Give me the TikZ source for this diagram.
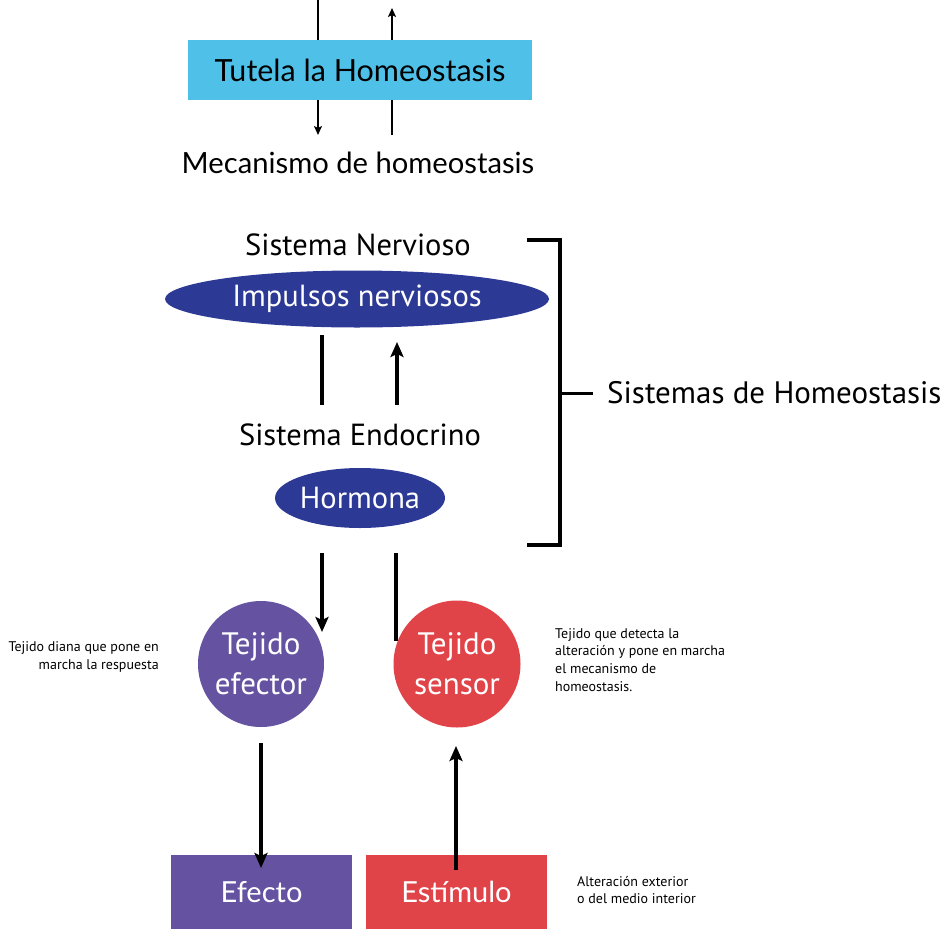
\documentclass[tikz,border=0pt]{standalone}
\usepackage{fontspec}
\setmainfont{PT Sans}
\newfontfamily\gill{Lato}
\usetikzlibrary{arrows.meta,shapes.geometric}
\definecolor{cyanb}{RGB}{79,193,233}
\definecolor{navyb}{RGB}{44,58,150}
\definecolor{purpb}{RGB}{101,83,162}
\definecolor{redb}{RGB}{224,67,72}
\tikzset{
  lbl/.style={inner sep=0pt, font=\fontsize{30.5}{32}\selectfont},
  ellb/.style={ellipse, fill=navyb, text=white, inner sep=0pt, font=\fontsize{30.5}{32}\selectfont},
  circb/.style={circle, text=white, inner sep=0pt, align=center, font=\fontsize{31}{40}\selectfont},
  boxb/.style={rectangle, inner sep=0pt, text=white, font=\gill\fontsize{29}{30}\selectfont},
  note/.style={inner sep=0pt, font=\fontsize{14}{17.8}\selectfont},
  thinln/.style={line width=2.2pt},
  thinarr/.style={line width=2.2pt, -{Stealth[length=9pt,width=8pt,inset=2pt]}},
  thickln/.style={line width=3.5pt},
  thickarr/.style={line width=3.5pt, -{Stealth[length=15pt,width=13pt,inset=3pt]}},
}
\begin{document}
\begin{tikzpicture}[x=1pt,y=-1pt]
\useasboundingbox (0,0) rectangle (950,929);

% top block
\node[rectangle, fill=cyanb, minimum width=344pt, minimum height=60pt, inner sep=0pt,
      font=\gill\fontsize{30.5}{32}\selectfont] (tut) at (360,70) {Tutela la Homeostasis};
\node[lbl, font=\gill\fontsize{29.2}{32}\selectfont] (mec) at (358,163) {Mecanismo de homeostasis};
\coordinate (a1) at (318,0);
\coordinate (a2) at (392,8);
\coordinate (b1) at (318,135);
\coordinate (b2) at (392,135);
\draw[thinln] (a1) -- (a1 |- tut.north);
\draw[thinarr] (a2 |- tut.north) -- (a2);
\draw[thinarr] (tut.south -| b1) -- (b1);
\draw[thinln] (b2) -- (tut.south -| b2);

% nervous system
\node[lbl] (nerv) at (358,245) {Sistema Nervioso};
\node[ellb, minimum width=384pt, minimum height=57pt] (imp) at (357,299) {Impulsos nerviosos};
\coordinate (c1a) at (322,335);
\coordinate (c1b) at (322,405);
\coordinate (c2a) at (397,405);
\coordinate (c2b) at (397,342);
\draw[thickln] (c1a) -- (c1b);
\draw[thickarr] (c2a) -- (c2b);

% endocrine system
\node[lbl] (endo) at (360,435) {Sistema Endocrino};
\node[ellb, minimum width=170pt, minimum height=60pt] (hor) at (360,498) {Hormona};

% bracket
\coordinate (k1) at (527,240);
\coordinate (k2) at (560,240);
\coordinate (k3) at (560,545);
\coordinate (k4) at (527,545);
\coordinate (k5) at (560,393);
\coordinate (k6) at (593,393);
\draw[line width=3.5pt] (k1) -- (k2) -- (k3) -- (k4);
\draw[line width=3pt] (k5) -- (k6);
\node[lbl, anchor=west, font=\fontsize{31}{32}\selectfont] (shl) at (607,393) {Sistemas de Homeostasis};

% tissues
\node[circb, fill=purpb, minimum size=126pt] (efe) at (261,664) {Tejido\\efector};
\node[circb, fill=redb, minimum size=127pt] (sen) at (457,664) {Tejido\\sensor};
\coordinate (d1a) at (322,553);
\coordinate (d1b) at (322,632);
\coordinate (d2a) at (396,553);
\coordinate (d2b) at (396,641);
\draw[thickarr] (d1a) -- (d1b);
\draw[thickln] (d2a) -- (d2b);

\node[note, anchor=east, align=right] (n1) at (159,657) {Tejido diana que pone en\\marcha la respuesta};
\node[note, anchor=west, align=left] (n2) at (555,660) {Tejido que detecta la\\alteración y pone en marcha\\el mecanismo de\\homeostasis.};

% bottom boxes
\node[boxb, fill=purpb, minimum width=181pt, minimum height=74pt] (efc) at (261.5,892) {Efecto};
\node[boxb, fill=redb, minimum width=181pt, minimum height=74pt] (est) at (456.5,892) {Estímulo};
\coordinate (e1a) at (261,743);
\coordinate (e1b) at (261,868);
\coordinate (e2a) at (456,870);
\coordinate (e2b) at (456,746);
\draw[thickarr] (e1a) -- (e1b);
\draw[thickarr] (e2a) -- (e2b);
\node[note, anchor=west, align=left] (n3) at (577,890) {Alteración exterior\\o del medio interior};
\end{tikzpicture}
\end{document}
